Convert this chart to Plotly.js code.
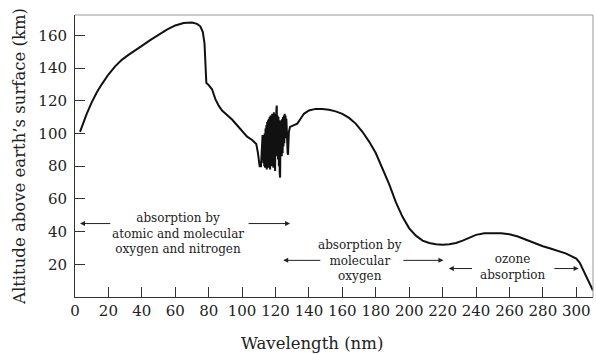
<!DOCTYPE html>
<html>
<head>
<meta charset="utf-8">
<script src="https://cdn.plot.ly/plotly-3.0.1.min.js"></script>
<style>html,body{margin:0;padding:0;background:#fff;}#chart{width:596px;height:354px;}</style>
</head>
<body>
<div id="chart"></div>
<script>
// Wavelength (nm) and altitude (km)
const wavelength = [3,5,7,10,13,16,20,24,28,32,36,40,45,50,55,60,65,70,73,75,76.5,77.5,78,78.3,78.6,80,82,84,86,88,91,94,97,100,103,106,108.5,109.5,110.2,110.5,111.3,
  112,112.25,112.5,112.75,113,113.25,113.5,113.75,114,114.25,114.5,114.75,115,115.25,115.5,115.75,116,116.25,116.5,116.75,117,117.25,117.5,117.75,118,118.25,118.5,118.75,119,119.25,119.5,119.75,120,120.25,120.5,120.75,121,121.25,121.5,121.75,122,122.25,122.5,122.75,123,123.25,123.5,123.75,124,124.25,124.5,124.75,125,125.25,125.5,125.75,126,126.25,126.5,126.75,127,127.25,127.5,127.75,128,128.7,
  131,133,135,137,140,144,148,152,156,160,164,168,172,176,180,184,188,192,196,200,204,208,212,216,220,224,228,232,236,240,245,250,255,260,265,270,275,280,285,290,294,297,300,302,304,306,308,310];
const altitude = [101,107,112,119,125,130,136,141,145,148,151,153.5,157,160.5,163.5,166,167.5,167.8,167,165.5,162,155,145,136,131,129.5,127,121,117,114,111.5,108.5,105,101.5,98,96,93.5,88,83,80,80,
  96,99,97,82,99,80,100,79,103,81,105,78,107,84,108,79,109,82,110,78,111,86,110,80,112,84,111,79,113,88,110,77,112,86,114,117,92,111,84,110,80,108,76,73,104,90,108,86,109,88,110,92,111,94,112,97,111,99,109,96,105,88,87,95,101,104,
  105,106,109,112,114,115,115,114.5,113.5,112,109.5,106,101,95,88,79,69,58,49,42,37.5,34.5,33,32.3,32,32.2,33,34.5,36.5,38,39,39.2,39,38.3,37,35,33,31,29.5,28,26.5,25,23.5,21,17,12,8,4];

const xTicks = [0,20,40,60,80,100,120,140,160,180,200,220,240,260,280,300];
const yTicks = [20,40,60,80,100,120,140,160];

// Labelled regions: text, centre (x,y), arrow tails/heads
const labelTexts = ["absorption by<br>atomic and molecular<br>oxygen and nitrogen", "absorption by<br>molecular<br>oxygen", "ozone<br>absorption"];
const labelX = [61.7, 170.7, 262.3];
const labelY = [38.9, 22.4, 18.1];
const arrowTailX = [22, 103, 147.7, 195.6, 238.5, 286];
const arrowHeadX = [3, 128.7, 124.6, 220.5, 223.7, 301.4];
const arrowY = [44.9, 44.9, 22.4, 22.4, 17.4, 17.4];

const FONT = "DejaVu Serif";
const annotations = [];
labelTexts.forEach((t, i) => annotations.push({
  x: labelX[i], y: labelY[i], xref: 'x', yref: 'y', text: t, showarrow: false,
  font: {family: FONT, size: 12, color: '#222'}, align: 'center', xanchor: 'center', yanchor: 'middle'
}));
arrowHeadX.forEach((hx, i) => annotations.push({
  x: hx, y: arrowY[i], ax: arrowTailX[i], ay: arrowY[i], xref: 'x', yref: 'y', axref: 'x', ayref: 'y',
  text: '', showarrow: true, arrowhead: 2, arrowsize: 1, arrowwidth: 1, arrowcolor: '#222'
}));
const plotW = 596 - 75 - 3, plotH = 354 - 15 - 57;
annotations.push({
  x: (312 - 75) / plotW, y: (354 - 57 - 343) / plotH, xref: 'paper', yref: 'paper', text: 'Wavelength (nm)', showarrow: false,
  font: {family: FONT, size: 16.5, color: '#222'}, xanchor: 'center', yanchor: 'middle'
});

const trace = {
  x: wavelength, y: altitude, type: 'scatter', mode: 'lines',
  line: {color: '#111', width: 2}, hoverinfo: 'skip'
};

const layout = {
  width: 596, height: 354,
  margin: {l: 75, r: 3, t: 15, b: 57},
  paper_bgcolor: '#fff', plot_bgcolor: '#fff',
  showlegend: false,
  font: {family: FONT, color: '#222'},
  xaxis: {
    range: [0, 310], tickvals: xTicks, ticktext: xTicks.map(String),
    ticks: 'inside', ticklen: 10, tickcolor: '#333', tickwidth: 1,
    showline: true, linecolor: '#333', linewidth: 1, showgrid: false, zeroline: false,
    tickfont: {family: FONT, size: 15, color: '#222'}, fixedrange: true
  },
  yaxis: {
    range: [0, 172.4], tickvals: yTicks, ticktext: yTicks.map(String),
    ticks: 'inside', ticklen: 10, tickcolor: '#333', tickwidth: 1,
    showline: true, linecolor: '#333', linewidth: 1, showgrid: false, zeroline: false,
    tickfont: {family: FONT, size: 15, color: '#222'}, ticklabelstandoff: 4,
    title: {text: 'Altitude above earth’s surface (km)', font: {family: FONT, size: 16.5, color: '#222'}, standoff: 8},
    fixedrange: true
  },
  shapes: [
    {type: 'line', xref: 'paper', yref: 'paper', x0: 0, x1: 1, y0: 1, y1: 1, line: {color: '#999', width: 1}},
    {type: 'line', xref: 'paper', yref: 'paper', x0: 1, x1: 1, y0: 0, y1: 1, line: {color: '#999', width: 1}}
  ],
  annotations: annotations
};

Plotly.newPlot('chart', [trace], layout, {displayModeBar: false, staticPlot: true});
</script>
</body>
</html>
